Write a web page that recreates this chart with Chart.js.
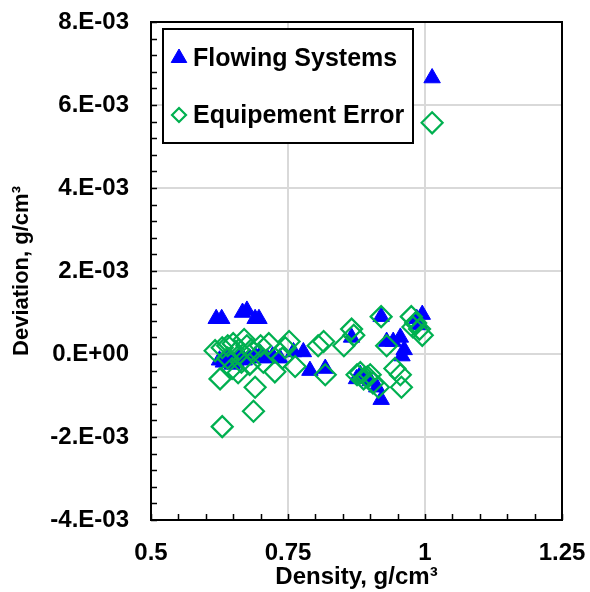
<!DOCTYPE html>
<html>
<head>
<meta charset="utf-8">
<script src="https://cdn.jsdelivr.net/npm/chart.js@4/dist/chart.umd.min.js"></script>
<style>
  body { margin: 0; background: #fff; }
  canvas { display: block; }
</style>
</head>
<body>
<canvas id="myChart" width="590" height="592"></canvas>
<script>
// Flowing Systems (blue triangles)
const flowX = [1.013, 0.619, 0.629, 0.667, 0.675, 0.690, 0.697,
    0.625, 0.632, 0.640, 0.648, 0.655, 0.662, 0.670, 0.680, 0.690, 0.700, 0.712, 0.722, 0.735,
    0.760, 0.778, 0.790, 0.818, 0.866, 0.875, 0.882, 0.890, 0.900, 0.912, 0.920,
    0.920, 0.930, 0.942, 0.955, 0.958, 0.962, 0.985, 0.995, 0.990];
const flowY = [6.65e-3, 0.85e-3, 0.85e-3, 1.0e-3, 1.05e-3, 0.85e-3, 0.85e-3,
    -0.15e-3, -0.2e-3, -0.1e-3, -0.25e-3, -0.2e-3, -0.05e-3, -0.15e-3, -0.1e-3, -0.05e-3, 0.0, -0.1e-3, -0.05e-3, -0.1e-3,
    0.05e-3, 0.05e-3, -0.4e-3, -0.35e-3, 0.4e-3, -0.6e-3, -0.5e-3, -0.55e-3, -0.65e-3, -0.8e-3, -1.1e-3,
    0.9e-3, 0.3e-3, 0.3e-3, 0.4e-3, -0.05e-3, 0.1e-3, 0.85e-3, 0.95e-3, 0.7e-3];

// Equipement Error (green diamonds)
const errX = [1.013, 0.630, 0.687, 0.626, 0.617, 0.690, 0.659, 0.630, 0.640, 0.650,
    0.660, 0.670, 0.675, 0.683, 0.700, 0.705, 0.715, 0.726, 0.745, 0.752,
    0.763, 0.740, 0.805, 0.815, 0.818, 0.852, 0.866, 0.870, 0.876, 0.882,
    0.888, 0.895, 0.900, 0.905, 0.920, 0.930, 0.945, 0.955, 0.957, 0.975,
    0.983, 0.990, 0.978, 0.995, 0.640, 0.665, 0.680, 0.648, 0.915];
const errY = [5.57e-3, -1.75e-3, -1.38e-3, -0.6e-3, 0.08e-3, -0.8e-3, -0.45e-3, 0.15e-3, 0.2e-3, 0.25e-3,
    0.1e-3, 0.35e-3, 0.2e-3, 0.1e-3, 0.2e-3, -0.2e-3, 0.25e-3, -0.43e-3, 0.15e-3, 0.3e-3,
    -0.3e-3, -0.1e-3, 0.2e-3, 0.3e-3, -0.5e-3, 0.2e-3, 0.6e-3, 0.45e-3, -0.5e-3, -0.45e-3,
    -0.6e-3, -0.55e-3, -0.5e-3, -0.7e-3, 0.9e-3, 0.2e-3, -0.35e-3, -0.5e-3, -0.8e-3, 0.9e-3,
    0.75e-3, 0.6e-3, 0.65e-3, 0.45e-3, -0.1e-3, -0.2e-3, -0.25e-3, -0.35e-3, -0.8e-3];

const xTickValues = [0.5, 0.75, 1, 1.25];
const xTickLabels = ["0.5", "0.75", "1", "1.25"];
const yTickValues = [-4e-3, -2e-3, 0, 2e-3, 4e-3, 6e-3, 8e-3];
const yTickLabels = ["-4.E-03", "-2.E-03", "0.E+00", "2.E-03", "4.E-03", "6.E-03", "8.E-03"];
const seriesNames = ["Flowing Systems", "Equipement Error"];

const BLUE = "#0000FF";
const GREEN = "#00B050";
const FONT = "'Liberation Sans', Arial, sans-serif";

Chart.defaults.font.family = FONT;
Chart.defaults.font.weight = "bold";
Chart.defaults.color = "#000";

function toPoints(xs, ys) {
    return xs.map((x, i) => ({x: x, y: ys[i]}));
}

// border, inward minor/major ticks, legend box
const framePlugin = {
    id: "frame",
    afterDatasetsDraw(chart) {
        const {ctx, chartArea: a, scales} = chart;
        const xs = scales.x, ys = scales.y;
        ctx.save();
        ctx.strokeStyle = "#000";
        ctx.lineWidth = 1.5;
        ctx.beginPath();
        for (let i = 0; i <= 15; i++) {
            const px = Math.round(xs.getPixelForValue(0.5 + i * 0.05)) + 0.5;
            ctx.moveTo(px, a.bottom);
            ctx.lineTo(px, a.bottom - 6);
        }
        for (let i = 0; i <= 30; i++) {
            const py = Math.round(ys.getPixelForValue(-4e-3 + i * 0.4e-3)) + 0.5;
            ctx.moveTo(a.left, py);
            ctx.lineTo(a.left + 6, py);
        }
        ctx.stroke();
        ctx.lineWidth = 2;
        ctx.strokeRect(a.left, a.top, a.right - a.left, a.bottom - a.top);
        ctx.restore();
    },
    afterDraw(chart) {
        const {ctx, chartArea: a} = chart;
        const bx = a.left + 12, by = a.top + 7, bw = 250, bh = 114;
        ctx.save();
        ctx.fillStyle = "#fff";
        ctx.fillRect(bx, by, bw, bh);
        ctx.strokeStyle = "#000";
        ctx.lineWidth = 2;
        ctx.strokeRect(bx, by, bw, bh);
        const rows = [
            {y: by + 29, style: "triangle", fill: BLUE, stroke: BLUE, r: 9, bw: 1},
            {y: by + 86, style: "rectRot", fill: "rgba(0,0,0,0)", stroke: GREEN, r: 7, bw: 2.2}
        ];
        rows.forEach((row, i) => {
            ctx.fillStyle = row.fill;
            ctx.strokeStyle = row.stroke;
            ctx.lineWidth = row.bw;
            Chart.helpers.drawPoint(ctx, {pointStyle: row.style, radius: row.r, borderWidth: row.bw}, bx + 16, row.y);
            ctx.fillStyle = "#000";
            ctx.font = "bold 25px " + FONT;
            ctx.textBaseline = "middle";
            ctx.textAlign = "left";
            ctx.fillText(seriesNames[i], bx + 30, row.y + 1);
        });
        ctx.restore();
    }
};

function createChart() {
    const ctx = document.getElementById("myChart");
    new Chart(ctx, {
        type: "scatter",
        data: {
            datasets: [{
                label: seriesNames[0],
                data: toPoints(flowX, flowY),
                pointStyle: "triangle",
                pointRadius: 9.5,
                backgroundColor: BLUE,
                borderColor: BLUE,
                borderWidth: 1,
                order: 1
            }, {
                label: seriesNames[1],
                data: toPoints(errX, errY),
                pointStyle: "rectRot",
                pointRadius: 10.5,
                backgroundColor: "rgba(0,0,0,0)",
                borderColor: GREEN,
                borderWidth: 2.2,
                order: 0
            }]
        },
        options: {
            responsive: false,
            animation: false,
            devicePixelRatio: 1,
            layout: {padding: {top: 22, right: 28, left: 0, bottom: 0}},
            plugins: {legend: {display: false}, tooltip: {enabled: false}},
            scales: {
                x: {
                    type: "linear",
                    min: 0.5,
                    max: 1.25,
                    afterBuildTicks: (s) => { s.ticks = xTickValues.map(v => ({value: v})); },
                    afterFit: (s) => { s.height = 72; s.paddingLeft = 0; s.paddingRight = 0; },
                    grid: {color: "#D9D9D9", lineWidth: 2, drawTicks: false},
                    border: {display: false},
                    ticks: {
                        padding: 19,
                        maxRotation: 0,
                        font: {size: 24, weight: "bold"},
                        callback: (v, i) => xTickLabels[i]
                    },
                    title: {
                        display: true,
                        text: "Density, g/cm³",
                        font: {size: 24, weight: "bold"},
                        padding: {top: 0, bottom: 0}
                    }
                },
                y: {
                    type: "linear",
                    min: -4e-3,
                    max: 8e-3,
                    afterBuildTicks: (s) => { s.ticks = yTickValues.map(v => ({value: v})); },
                    afterFit: (s) => { s.width = 151; s.paddingTop = 0; s.paddingBottom = 0; },
                    grid: {color: "#D9D9D9", lineWidth: 2, drawTicks: false},
                    border: {display: false},
                    ticks: {
                        padding: 22,
                        font: {size: 24, weight: "bold"},
                        callback: (v, i) => yTickLabels[i]
                    },
                    title: {
                        display: true,
                        text: "Deviation, g/cm³",
                        font: {size: 22, weight: "bold"},
                        padding: {top: 9, bottom: 0}
                    }
                }
            }
        },
        plugins: [framePlugin]
    });
}
createChart();
</script>
</body>
</html>
